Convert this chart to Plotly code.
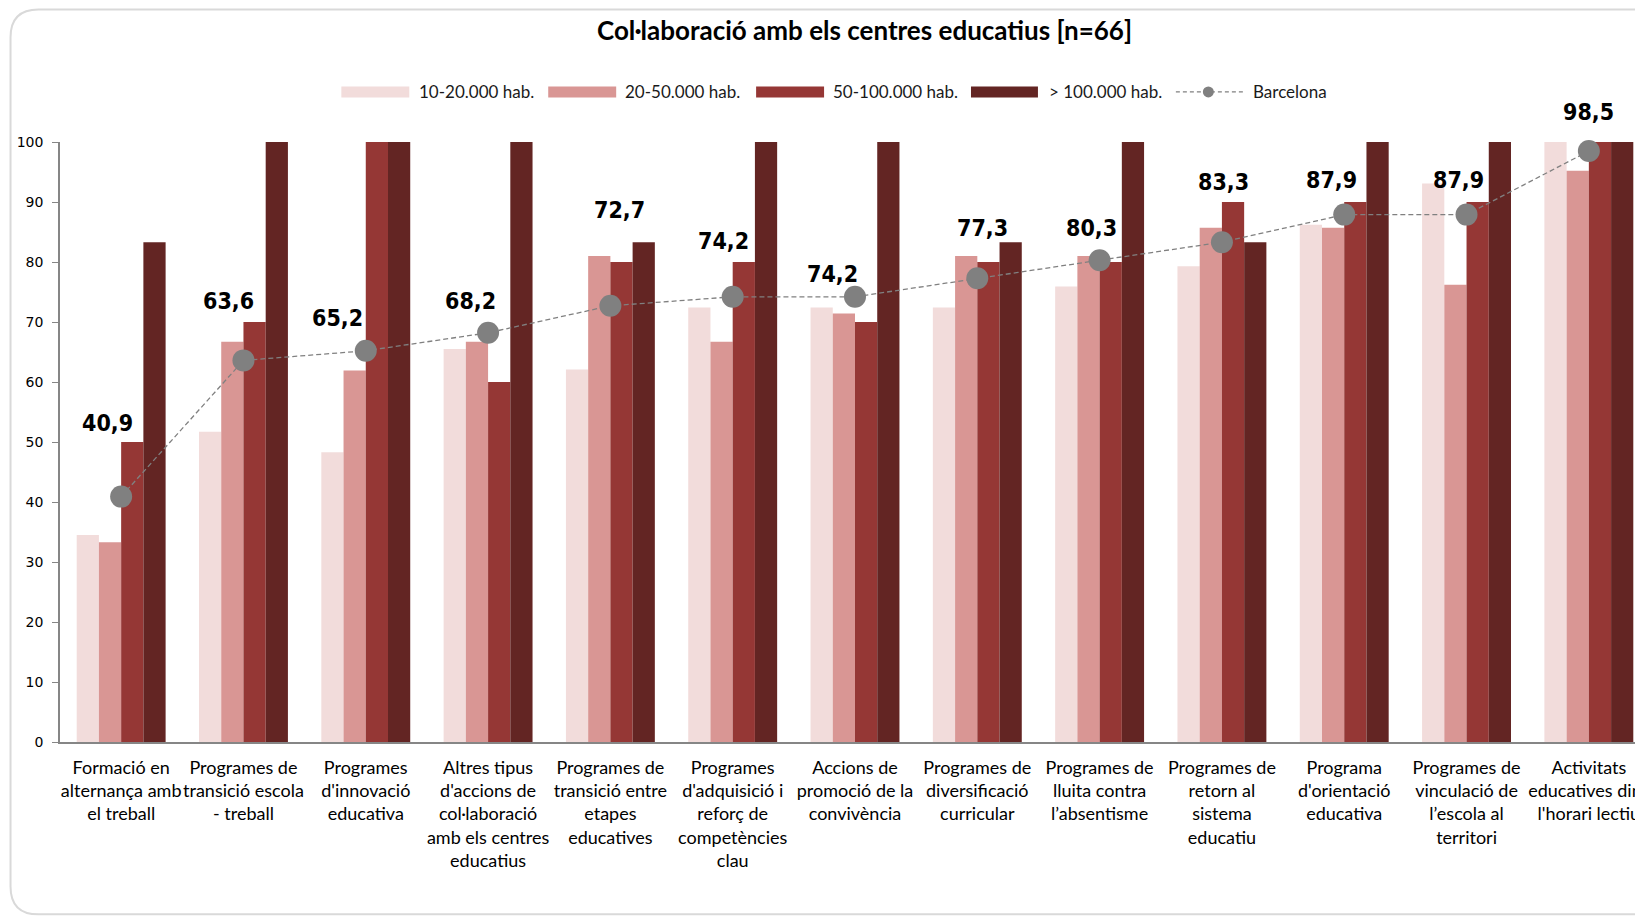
import plotly.graph_objects as go

# ---------------- data ----------------
categories = [
    "Formació en<br>alternança amb<br>el treball",
    "Programes de<br>transició escola<br>- treball",
    "Programes<br>d'innovació<br>educativa",
    "Altres tipus<br>d'accions de<br>col·laboració<br>amb els centres<br>educatius",
    "Programes de<br>transició entre<br>etapes<br>educatives",
    "Programes<br>d'adquisició i<br>reforç de<br>competències<br>clau",
    "Accions de<br>promoció de la<br>convivència",
    "Programes de<br>diversificació<br>curricular",
    "Programes de<br>lluita contra<br>l’absentisme",
    "Programes de<br>retorn al<br>sistema<br>educatiu",
    "Programa<br>d'orientació<br>educativa",
    "Programes de<br>vinculació de<br>l’escola al<br>territori",
    "Activitats<br>educatives dins<br>l'horari lectiu",
]
series_names = ["10-20.000 hab.", "20-50.000 hab.", "50-100.000 hab.", "> 100.000 hab."]
v_10_20 = [34.5, 51.7, 48.3, 65.5, 62.1, 72.4, 72.4, 72.4, 75.9, 79.3, 86.2, 93.1, 100.0]
v_20_50 = [33.3, 66.7, 61.9, 66.7, 81.0, 66.7, 71.4, 81.0, 81.0, 85.7, 85.7, 76.2, 95.2]
v_50_100 = [50.0, 70.0, 100.0, 60.0, 80.0, 80.0, 70.0, 80.0, 80.0, 90.0, 90.0, 90.0, 100.0]
v_100_plus = [83.3, 100.0, 100.0, 100.0, 83.3, 100.0, 100.0, 83.3, 100.0, 83.3, 100.0, 100.0, 100.0]
barcelona = [40.9, 63.6, 65.2, 68.2, 72.7, 74.2, 74.2, 77.3, 80.3, 83.3, 87.9, 87.9, 98.5]
y_ticks = [0, 10, 20, 30, 40, 50, 60, 70, 80, 90, 100]
title_text = "Col·laboració amb els centres educatius [n=66]"

# ---------------- styling ----------------
colors = ["#F2DCDB", "#D99694", "#953735", "#632523"]
line_grey = "#808080"
axis_grey = "#868686"
# pixel offsets of the Barcelona value labels (dx right, dy up)
label_offsets = [(-14, 74), (-15, 59), (-28, 33), (-18, 32), (9, 96), (-9, 56), (-23, 23),
                 (5, 50), (-8, 32), (2, 60), (-13, 35), (-8, 35), (0, 39)]

W, H = 1643, 916
OFF = 8  # page body margin: layout positions below are measured on the page
L, R = 51.5, 1642.4
TOP, BOT = 133.6, 734.4
PW, PH = R - L, BOT - TOP


def px(x):
    return (x - OFF - L) / PW


def py(y):
    return (BOT - (y - OFF)) / PH


LABEL_FONT = "Lato, 'Open Sans', sans-serif"
NUM_FONT = "'DejaVu Sans', Verdana, sans-serif"
BOLD_NUM_FONT = "'DejaVu Sans Condensed', 'DejaVu Sans', Verdana, sans-serif"

fig = go.Figure()
for name, vals, col in zip(series_names, [v_10_20, v_20_50, v_50_100, v_100_plus], colors):
    fig.add_trace(go.Bar(x=categories, y=vals, name=name, marker=dict(color=col, line=dict(width=0)),
                         showlegend=False))

fig.add_trace(go.Scatter(x=categories, y=barcelona, name="Barcelona", mode="lines+markers",
                         line=dict(color=line_grey, width=1.3, dash="5px,3px"),
                         marker=dict(color=line_grey, size=22), showlegend=False, cliponaxis=False))

annotations = []
for cat, v, (dx, dy) in zip(categories, barcelona, label_offsets):
    annotations.append(dict(x=cat, y=v, xref="x", yref="y", text=f"{v:.1f}".replace(".", ","),
                            showarrow=False, xshift=dx, yshift=dy, xanchor="center", yanchor="middle",
                            font=dict(family=BOLD_NUM_FONT, size=23, color="#000000", weight="bold")))

shapes = []
# chart-area rounded border (right side runs past the image edge)
bx0, by0, bx1, by1, rad = 10, 9, 1665, 915, 28
path = (f"M {px(bx0)},{py(by0 + rad)} Q {px(bx0)},{py(by0)} {px(bx0 + rad)},{py(by0)} "
        f"L {px(bx1 - rad)},{py(by0)} Q {px(bx1)},{py(by0)} {px(bx1)},{py(by0 + rad)} "
        f"L {px(bx1)},{py(by1 - rad)} Q {px(bx1)},{py(by1)} {px(bx1 - rad)},{py(by1)} "
        f"L {px(bx0 + rad)},{py(by1)} Q {px(bx0)},{py(by1)} {px(bx0)},{py(by1 - rad)} Z")
shapes.append(dict(type="path", xref="paper", yref="paper", path=path,
                   line=dict(color="#d9d9d9", width=2), fillcolor="rgba(0,0,0,0)", layer="below"))

# custom legend (page-measured positions)
leg_y0, leg_y1, leg_yc = 86, 97, 91.5
sw = [(341, 409, 417), (548, 616, 623), (756, 824, 830.5), (971, 1038, 1047)]
for (x0, x1, tx), col, name in zip(sw, colors, series_names):
    shapes.append(dict(type="rect", xref="paper", yref="paper", x0=px(x0), x1=px(x1),
                       y0=py(leg_y1), y1=py(leg_y0), fillcolor=col, line=dict(width=0)))
    annotations.append(dict(x=px(tx), y=py(leg_yc), xref="paper", yref="paper", text=name,
                            showarrow=False, xanchor="left", yanchor="middle",
                            font=dict(family=LABEL_FONT, size=17, color="#1a1a1a")))
shapes.append(dict(type="line", xref="paper", yref="paper", x0=px(1176), x1=px(1245),
                   y0=py(leg_yc), y1=py(leg_yc), line=dict(color=line_grey, width=1.3, dash="4px,3px")))
shapes.append(dict(type="circle", xref="paper", yref="paper", x0=px(1203), x1=px(1214),
                   y0=py(97), y1=py(86), fillcolor=line_grey, line=dict(width=0)))
annotations.append(dict(x=px(1251.5), y=py(leg_yc), xref="paper", yref="paper", text="Barcelona",
                        showarrow=False, xanchor="left", yanchor="middle",
                        font=dict(family=LABEL_FONT, size=17, color="#1a1a1a")))

fig.update_layout(
    width=W, height=H,
    margin=dict(l=L, r=W - R, t=TOP, b=H - BOT, pad=0),
    paper_bgcolor="white", plot_bgcolor="white",
    barmode="group", bargap=0.273, bargroupgap=0,
    title=dict(text=title_text, x=(864.5 - OFF) / W, y=1 - (31 - OFF) / H, xref="container",
               yref="container", xanchor="center", yanchor="middle",
               font=dict(family=LABEL_FONT, size=26, color="#000000", weight="bold")),
    xaxis=dict(range=[-0.5, 12.5], showgrid=False, zeroline=False, showline=True,
               linecolor=axis_grey, linewidth=2, ticks="", tickangle=0, ticklabelstandoff=8,
               tickfont=dict(family=LABEL_FONT, size=18, color="#000000"), fixedrange=True),
    yaxis=dict(range=[0, 100], tickvals=y_ticks, ticktext=[str(t) for t in y_ticks],
               showgrid=False, zeroline=False, showline=True, linecolor=axis_grey, linewidth=1.5,
               ticks="outside", ticklen=6, tickcolor=axis_grey, tickwidth=1.2, ticklabelstandoff=6,
               tickfont=dict(family=NUM_FONT, size=14, color="#000000"), fixedrange=True),
    annotations=annotations, shapes=shapes,
    showlegend=False,
)

fig.write_html("out.html")
